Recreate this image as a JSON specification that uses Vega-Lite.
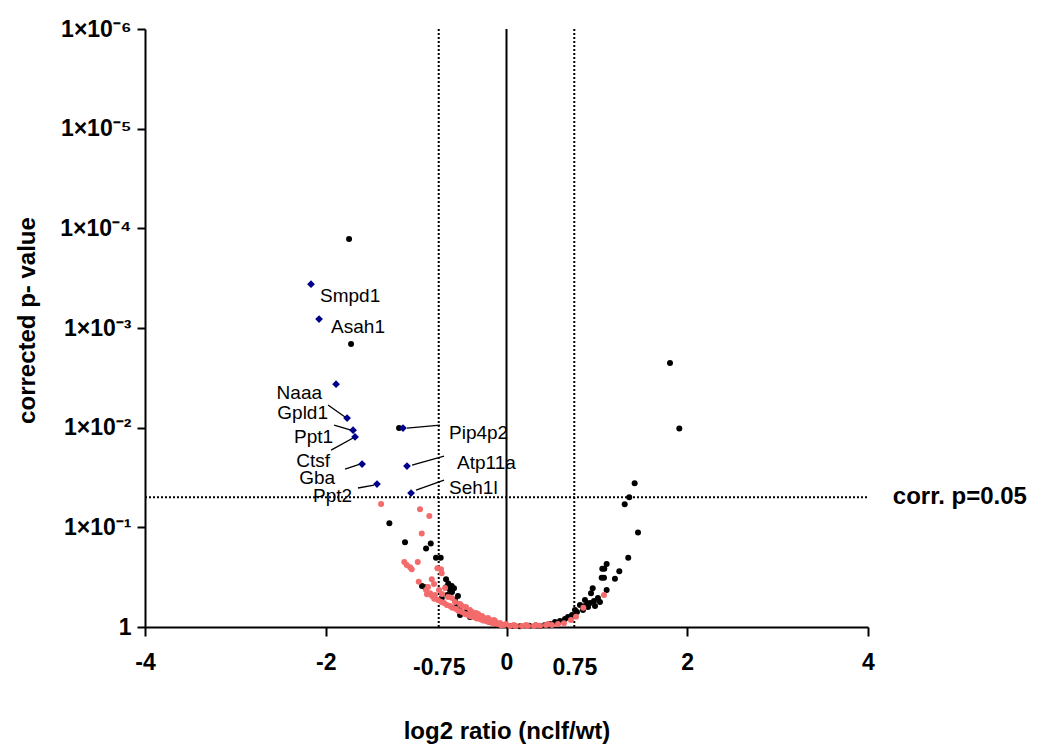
{
  "$schema": "https://vega.github.io/schema/vega-lite/v6.json",
  "autosize": {"type": "none"},
  "padding": {"left": 145, "top": 29, "right": 172, "bottom": 119},
  "width": 723,
  "height": 598,
  "background": "white",
  "config": {"view": {"stroke": null}, "font": "Liberation Sans"},
  "datasets": {
    "pts": [
      {"x": -1.742, "p": 0.000128, "g": "black"},
      {"x": -1.720, "p": 0.00145, "g": "black"},
      {"x": -1.189, "p": 0.0101, "g": "black"},
      {"x": 1.809, "p": 0.00225, "g": "black"},
      {"x": 1.912, "p": 0.0102, "g": "black"},
      {"x": 1.418, "p": 0.0362, "g": "black"},
      {"x": 1.358, "p": 0.05, "g": "black"},
      {"x": 1.308, "p": 0.0588, "g": "black"},
      {"x": 1.455, "p": 0.113, "g": "black"},
      {"x": 1.347, "p": 0.202, "g": "black"},
      {"x": 1.248, "p": 0.276, "g": "black"},
      {"x": 1.200, "p": 0.328, "g": "black"},
      {"x": 1.108, "p": 0.233, "g": "black"},
      {"x": 1.082, "p": 0.26, "g": "black"},
      {"x": 1.060, "p": 0.26, "g": "black"},
      {"x": 1.053, "p": 0.321, "g": "black"},
      {"x": 1.079, "p": 0.321, "g": "black"},
      {"x": 1.108, "p": 0.426, "g": "black"},
      {"x": 0.954, "p": 0.409, "g": "black"},
      {"x": 0.935, "p": 0.459, "g": "black"},
      {"x": 0.813, "p": 0.601, "g": "black"},
      {"x": 0.868, "p": 0.536, "g": "black"},
      {"x": 0.924, "p": 0.574, "g": "black"},
      {"x": 0.968, "p": 0.548, "g": "black"},
      {"x": 0.902, "p": 0.631, "g": "black"},
      {"x": 0.979, "p": 0.615, "g": "black"},
      {"x": 0.846, "p": 0.675, "g": "black"},
      {"x": 0.780, "p": 0.708, "g": "black"},
      {"x": 0.725, "p": 0.758, "g": "black"},
      {"x": 0.680, "p": 0.794, "g": "black"},
      {"x": 0.758, "p": 0.675, "g": "black"},
      {"x": 0.647, "p": 0.832, "g": "black"},
      {"x": 0.592, "p": 0.871, "g": "black"},
      {"x": 0.537, "p": 0.891, "g": "black"},
      {"x": 0.481, "p": 0.933, "g": "black"},
      {"x": 0.426, "p": 0.955, "g": "black"},
      {"x": 0.371, "p": 0.977, "g": "black"},
      {"x": 1.034, "p": 0.561, "g": "black"},
      {"x": 1.012, "p": 0.512, "g": "black"},
      {"x": 0.868, "p": 0.615, "g": "black"},
      {"x": 0.900, "p": 0.580, "g": "black"},
      {"x": 0.05, "p": 0.977, "g": "black"},
      {"x": 0.15, "p": 0.98, "g": "black"},
      {"x": 0.25, "p": 0.97, "g": "black"},
      {"x": 0.32, "p": 0.965, "g": "black"},
      {"x": -1.296, "p": 0.0912, "g": "black"},
      {"x": -1.123, "p": 0.141, "g": "black"},
      {"x": -0.838, "p": 0.145, "g": "black"},
      {"x": -0.890, "p": 0.163, "g": "black"},
      {"x": -0.780, "p": 0.202, "g": "black"},
      {"x": -0.728, "p": 0.202, "g": "black"},
      {"x": -0.669, "p": 0.332, "g": "black"},
      {"x": -0.644, "p": 0.365, "g": "black"},
      {"x": -0.606, "p": 0.388, "g": "black"},
      {"x": -0.581, "p": 0.409, "g": "black"},
      {"x": -0.625, "p": 0.426, "g": "black"},
      {"x": -0.669, "p": 0.400, "g": "black"},
      {"x": -0.935, "p": 0.388, "g": "black"},
      {"x": -0.902, "p": 0.400, "g": "black"},
      {"x": -0.717, "p": 0.515, "g": "black"},
      {"x": -0.655, "p": 0.478, "g": "black"},
      {"x": -0.551, "p": 0.588, "g": "black"},
      {"x": -0.570, "p": 0.536, "g": "black"},
      {"x": -0.603, "p": 0.446, "g": "black"},
      {"x": -0.537, "p": 0.489, "g": "black"},
      {"x": -0.514, "p": 0.675, "g": "black"},
      {"x": -0.448, "p": 0.708, "g": "black"},
      {"x": -0.382, "p": 0.741, "g": "black"},
      {"x": -0.315, "p": 0.794, "g": "black"},
      {"x": -0.249, "p": 0.832, "g": "black"},
      {"x": -0.404, "p": 0.794, "g": "black"},
      {"x": -0.183, "p": 0.891, "g": "black"},
      {"x": -0.116, "p": 0.933, "g": "black"},
      {"x": -0.050, "p": 0.955, "g": "black"},
      {"x": -0.514, "p": 0.758, "g": "black"},
      {"x": -0.440, "p": 0.729, "g": "black"},
      {"x": -0.312, "p": 0.758, "g": "black"},
      {"x": -0.274, "p": 0.788, "g": "black"},
      {"x": -0.219, "p": 0.851, "g": "black"},
      {"x": -1.388, "p": 0.0584, "g": "red"},
      {"x": -0.957, "p": 0.0659, "g": "red"},
      {"x": -0.854, "p": 0.077, "g": "red"},
      {"x": -0.938, "p": 0.115, "g": "red"},
      {"x": -1.131, "p": 0.223, "g": "red"},
      {"x": -1.067, "p": 0.252, "g": "red"},
      {"x": -1.049, "p": 0.264, "g": "red"},
      {"x": -0.982, "p": 0.223, "g": "red"},
      {"x": -1.104, "p": 0.239, "g": "red"},
      {"x": -0.765, "p": 0.258, "g": "red"},
      {"x": -0.725, "p": 0.264, "g": "red"},
      {"x": -0.717, "p": 0.289, "g": "red"},
      {"x": -0.971, "p": 0.351, "g": "red"},
      {"x": -0.827, "p": 0.332, "g": "red"},
      {"x": -0.846, "p": 0.459, "g": "red"},
      {"x": -0.791, "p": 0.478, "g": "red"},
      {"x": -0.747, "p": 0.426, "g": "red"},
      {"x": -0.890, "p": 0.426, "g": "red"},
      {"x": -0.824, "p": 0.489, "g": "red"},
      {"x": -0.758, "p": 0.536, "g": "red"},
      {"x": -0.691, "p": 0.574, "g": "red"},
      {"x": -0.625, "p": 0.615, "g": "red"},
      {"x": -0.559, "p": 0.660, "g": "red"},
      {"x": -0.492, "p": 0.708, "g": "red"},
      {"x": -0.426, "p": 0.758, "g": "red"},
      {"x": -0.360, "p": 0.794, "g": "red"},
      {"x": -0.293, "p": 0.832, "g": "red"},
      {"x": -0.227, "p": 0.871, "g": "red"},
      {"x": -0.160, "p": 0.912, "g": "red"},
      {"x": -0.094, "p": 0.933, "g": "red"},
      {"x": -0.028, "p": 0.955, "g": "red"},
      {"x": 0.039, "p": 0.977, "g": "red"},
      {"x": 0.105, "p": 0.977, "g": "red"},
      {"x": 0.171, "p": 0.977, "g": "red"},
      {"x": 0.238, "p": 0.977, "g": "red"},
      {"x": 0.304, "p": 0.977, "g": "red"},
      {"x": 0.371, "p": 0.97, "g": "red"},
      {"x": 0.437, "p": 0.955, "g": "red"},
      {"x": 0.503, "p": 0.955, "g": "red"},
      {"x": 0.570, "p": 0.933, "g": "red"},
      {"x": -0.802, "p": 0.371, "g": "red"},
      {"x": -0.868, "p": 0.397, "g": "red"},
      {"x": -0.680, "p": 0.405, "g": "red"},
      {"x": -0.603, "p": 0.512, "g": "red"},
      {"x": -0.514, "p": 0.588, "g": "red"},
      {"x": -0.448, "p": 0.631, "g": "red"},
      {"x": -0.382, "p": 0.708, "g": "red"},
      {"x": -0.315, "p": 0.741, "g": "red"},
      {"x": -0.249, "p": 0.812, "g": "red"},
      {"x": -0.183, "p": 0.851, "g": "red"},
      {"x": -0.127, "p": 0.871, "g": "red"},
      {"x": -0.072, "p": 0.912, "g": "red"},
      {"x": -0.713, "p": 0.467, "g": "red"},
      {"x": -0.647, "p": 0.5, "g": "red"},
      {"x": -0.570, "p": 0.561, "g": "red"},
      {"x": -0.492, "p": 0.615, "g": "red"},
      {"x": -0.404, "p": 0.675, "g": "red"},
      {"x": -0.337, "p": 0.724, "g": "red"},
      {"x": -0.271, "p": 0.776, "g": "red"},
      {"x": -0.205, "p": 0.812, "g": "red"},
      {"x": -0.138, "p": 0.851, "g": "red"},
      {"x": -0.006, "p": 0.933, "g": "red"},
      {"x": 0.083, "p": 0.955, "g": "red"},
      {"x": 0.216, "p": 0.955, "g": "red"},
      {"x": 0.326, "p": 0.955, "g": "red"},
      {"x": 0.459, "p": 0.933, "g": "red"},
      {"x": 1.079, "p": 0.478, "g": "red"},
      {"x": 0.850, "p": 0.640, "g": "red"},
      {"x": 0.769, "p": 0.788, "g": "red"},
      {"x": 0.713, "p": 0.851, "g": "red"},
      {"x": 0.636, "p": 0.918, "g": "red"},
      {"x": -0.88, "p": 0.47, "g": "red"},
      {"x": -0.80, "p": 0.52, "g": "red"},
      {"x": -0.72, "p": 0.56, "g": "red"},
      {"x": -0.66, "p": 0.60, "g": "red"},
      {"x": -0.60, "p": 0.64, "g": "red"},
      {"x": -0.53, "p": 0.69, "g": "red"},
      {"x": -0.46, "p": 0.74, "g": "red"},
      {"x": -0.40, "p": 0.78, "g": "red"},
      {"x": -0.33, "p": 0.82, "g": "red"},
      {"x": -0.26, "p": 0.86, "g": "red"},
      {"x": -0.20, "p": 0.89, "g": "red"},
      {"x": -0.13, "p": 0.93, "g": "red"},
      {"x": -0.06, "p": 0.96, "g": "red"}
    ],
    "genes": [
      {"gene": "Smpd1", "x": -2.163, "p": 0.000363, "lx": -2.063, "lp": 0.000479, "side": "start"},
      {"gene": "Asah1", "x": -2.074, "p": 0.000814, "lx": -1.941, "lp": 0.000979, "side": "start"},
      {"gene": "Naaa", "x": -1.886, "p": 0.00366, "lx": -2.041, "lp": 0.0045, "side": "end"},
      {"gene": "Gpld1", "x": -1.764, "p": 0.00802, "lx": -1.975, "lp": 0.00714, "side": "end"},
      {"gene": "Ppt1", "x": -1.698, "p": 0.0106, "lx": -1.919, "lp": 0.0124, "side": "end"},
      {"gene": "Ctsf", "x": -1.676, "p": 0.0124, "lx": -1.953, "lp": 0.0216, "side": "end"},
      {"gene": "Gba", "x": -1.598, "p": 0.0232, "lx": -1.897, "lp": 0.032, "side": "end"},
      {"gene": "Ppt2", "x": -1.433, "p": 0.0368, "lx": -1.709, "lp": 0.0485, "side": "end"},
      {"gene": "Pip4p2", "x": -1.145, "p": 0.0101, "lx": -0.636, "lp": 0.0113, "side": "start"},
      {"gene": "Atp11a", "x": -1.101, "p": 0.0243, "lx": -0.548, "lp": 0.0226, "side": "start"},
      {"gene": "Seh1l", "x": -1.056, "p": 0.0453, "lx": -0.636, "lp": 0.0403, "side": "start"}
    ],
    "links": [
      {"gene": "Gpld1", "x1": -1.975, "p1": 0.00593, "x2": -1.787, "p2": 0.00783},
      {"gene": "Ppt1", "x1": -1.908, "p1": 0.00942, "x2": -1.72, "p2": 0.0106},
      {"gene": "Ctsf", "x1": -1.941, "p1": 0.0168, "x2": -1.698, "p2": 0.0127},
      {"gene": "Gba", "x1": -1.787, "p1": 0.026, "x2": -1.621, "p2": 0.0232},
      {"gene": "Ppt2", "x1": -1.643, "p1": 0.0403, "x2": -1.466, "p2": 0.0377},
      {"gene": "Pip4p2", "x1": -1.101, "p1": 0.0101, "x2": -0.736, "p2": 0.00942},
      {"gene": "Atp11a", "x1": -1.045, "p1": 0.0237, "x2": -0.691, "p2": 0.0193},
      {"gene": "Seh1l", "x1": -1.001, "p1": 0.0423, "x2": -0.691, "p2": 0.0336}
    ],
    "cut": [{"fc": -0.75}, {"fc": 0.75}]
  },
  "layer": [
    {
      "data": {"name": "pts"},
      "transform": [{"filter": "datum.g == 'black'"}],
      "mark": {"type": "circle", "size": 36, "color": "#000000", "opacity": 1},
      "encoding": {
        "x": {
          "field": "x", "type": "quantitative",
          "scale": {"domain": [-4, 4], "nice": false, "zero": false},
          "axis": {
            "title": "log2 ratio (nclf/wt)",
            "values": [-4, -2, -0.75, 0, 0.75, 2, 4],
            "labelExpr": "datum.value < 0 ? '-' + toString(abs(datum.value)) : toString(datum.value)",
            "grid": false,
            "labelFont": "Liberation Sans", "labelFontSize": 23, "labelFontWeight": "bold", "labelColor": "#000000",
            "labelFlush": false, "labelOverlap": false, "labelBound": false,
            "labelPadding": {"condition": {"test": "abs(datum.value) == 0.75", "value": 20}, "value": 15},
            "tickOpacity": {"condition": {"test": "abs(datum.value) == 0.75", "value": 0}, "value": 1},
            "tickSize": 9, "tickWidth": 2, "tickColor": "#000000",
            "domainColor": "#000000", "domainWidth": 2,
            "titleFont": "Liberation Sans", "titleFontSize": 24, "titleFontWeight": "bold", "titleColor": "#000000",
            "titleBaseline": "middle", "titleY": 104
          }
        },
        "y": {
          "field": "p", "type": "quantitative",
          "scale": {"type": "log", "domain": [0.000001, 1], "reverse": true, "nice": false},
          "axis": {
            "title": "corrected p- value",
            "values": [0.000001, 0.00001, 0.0001, 0.001, 0.01, 0.1, 1],
            "labelExpr": "datum.value >= 0.99 ? '1' : '1×10' + (datum.value > 0.05 ? '⁻¹' : datum.value > 0.005 ? '⁻²' : datum.value > 0.0005 ? '⁻³' : datum.value > 0.00005 ? '⁻⁴' : datum.value > 0.000005 ? '⁻⁵' : '⁻⁶')",
            "grid": false,
            "labelFont": "Liberation Sans", "labelFontSize": 23, "labelFontWeight": "bold", "labelColor": "#000000",
            "labelFlush": false, "labelOverlap": false, "labelBound": false, "labelPadding": 6,
            "tickSize": 8, "tickWidth": 2, "tickColor": "#000000",
            "domainColor": "#000000", "domainWidth": 2,
            "titleFont": "Liberation Sans", "titleFontSize": 24, "titleFontWeight": "bold", "titleColor": "#000000",
            "titleBaseline": "middle", "titleX": -118, "titleY": 291
          }
        }
      }
    },
    {
      "data": {"name": "cut"},
      "mark": {"type": "rule", "color": "#000000", "strokeWidth": 2, "strokeDash": [2, 2]},
      "encoding": {
        "x": {"field": "fc", "type": "quantitative"},
        "y": {"datum": 0.000001, "type": "quantitative"},
        "y2": {"datum": 1}
      }
    },
    {
      "data": {"values": [{}]},
      "mark": {"type": "rule", "color": "#000000", "strokeWidth": 2},
      "encoding": {
        "x": {"datum": 0, "type": "quantitative"},
        "y": {"datum": 0.000001, "type": "quantitative"},
        "y2": {"datum": 1}
      }
    },
    {
      "data": {"values": [{}]},
      "mark": {"type": "rule", "color": "#000000", "strokeWidth": 2, "strokeDash": [2, 2]},
      "encoding": {
        "x": {"datum": -4, "type": "quantitative"},
        "x2": {"datum": 4},
        "y": {"datum": 0.05, "type": "quantitative"}
      }
    },
    {
      "data": {"name": "pts"},
      "transform": [{"filter": "datum.g == 'red'"}],
      "mark": {"type": "circle", "size": 36, "color": "#f46b6b", "opacity": 1},
      "encoding": {
        "x": {"field": "x", "type": "quantitative"},
        "y": {"field": "p", "type": "quantitative"}
      }
    },
    {
      "data": {"name": "links"},
      "mark": {"type": "rule", "color": "#000000", "strokeWidth": 1.3},
      "encoding": {
        "x": {"field": "x1", "type": "quantitative"},
        "x2": {"field": "x2"},
        "y": {"field": "p1", "type": "quantitative"},
        "y2": {"field": "p2"}
      }
    },
    {
      "data": {"name": "genes"},
      "mark": {"type": "point", "shape": "diamond", "filled": true, "size": 60, "color": "#00008b", "opacity": 1},
      "encoding": {
        "x": {"field": "x", "type": "quantitative"},
        "y": {"field": "p", "type": "quantitative"}
      }
    },
    {
      "data": {"name": "genes"},
      "transform": [{"filter": "datum.side == 'start'"}],
      "mark": {"type": "text", "align": "left", "baseline": "middle", "font": "Liberation Sans", "fontSize": 19, "color": "#000000"},
      "encoding": {
        "x": {"field": "lx", "type": "quantitative"},
        "y": {"field": "lp", "type": "quantitative"},
        "text": {"field": "gene"}
      }
    },
    {
      "data": {"name": "genes"},
      "transform": [{"filter": "datum.side == 'end'"}],
      "mark": {"type": "text", "align": "right", "baseline": "middle", "font": "Liberation Sans", "fontSize": 19, "color": "#000000"},
      "encoding": {
        "x": {"field": "lx", "type": "quantitative"},
        "y": {"field": "lp", "type": "quantitative"},
        "text": {"field": "gene"}
      }
    },
    {
      "data": {"values": [{"label": "corr. p=0.05", "x": 4.275, "p": 0.05}]},
      "mark": {"type": "text", "align": "left", "baseline": "middle", "font": "Liberation Sans", "fontSize": 24, "fontWeight": "bold", "color": "#000000"},
      "encoding": {
        "x": {"field": "x", "type": "quantitative"},
        "y": {"field": "p", "type": "quantitative"},
        "text": {"field": "label"}
      }
    }
  ]
}
